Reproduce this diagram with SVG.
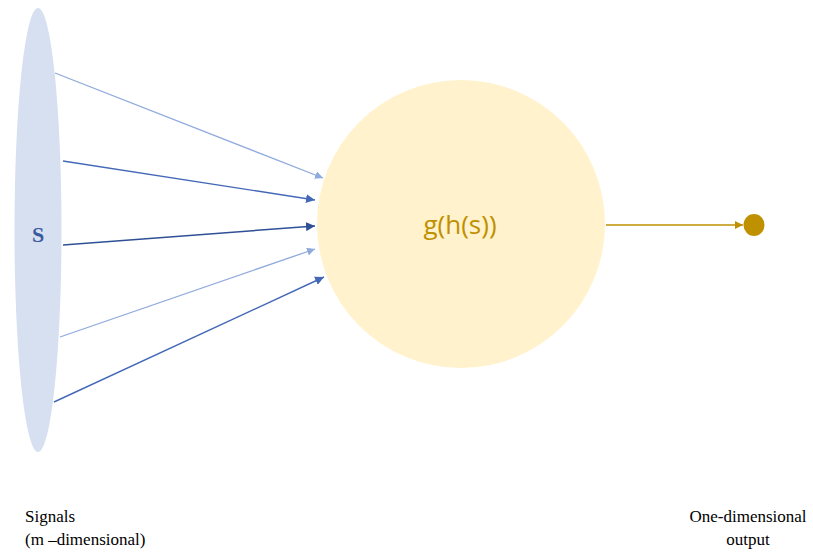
<svg xmlns="http://www.w3.org/2000/svg" width="813" height="552" viewBox="0 0 813 552">
  <style>
    .label { font-family: "Liberation Serif", serif; font-size: 17px; fill: #000000; }
    .c-light { stroke: #8FAADC; stroke-width: 1.3; fill: none; }
    .c-mid { stroke: #4468B8; stroke-width: 1.4; fill: none; }
    .c-dark { stroke: #2F4F96; stroke-width: 1.5; fill: none; }
    .c-gold { stroke: #BF9000; stroke-width: 1.3; fill: none; }
  </style>
  <defs>
    <marker id="ah-light" viewBox="0 0 10 10" refX="10" refY="5" markerWidth="8" markerHeight="8" markerUnits="userSpaceOnUse" orient="auto">
      <path d="M0,0 L10,5 L0,10 z" fill="#8FAADC"/>
    </marker>
    <marker id="ah-mid" viewBox="0 0 10 10" refX="10" refY="5" markerWidth="9" markerHeight="9" markerUnits="userSpaceOnUse" orient="auto">
      <path d="M0,0 L10,5 L0,10 z" fill="#4468B8"/>
    </marker>
    <marker id="ah-dark" viewBox="0 0 10 10" refX="10" refY="5" markerWidth="9" markerHeight="9" markerUnits="userSpaceOnUse" orient="auto">
      <path d="M0,0 L10,5 L0,10 z" fill="#2F4F96"/>
    </marker>
    <marker id="ah-gold" viewBox="0 0 10 10" refX="10" refY="5" markerWidth="8" markerHeight="8" markerUnits="userSpaceOnUse" orient="auto">
      <path d="M0,0 L10,5 L0,10 z" fill="#BF9000"/>
    </marker>
  </defs>

  <rect width="813" height="552" fill="#FFFFFF"/>

  <!-- input signal space -->
  <g id="signals">
    <ellipse cx="38" cy="230" rx="23.5" ry="222" fill="#D6E0F1"/>
    <text x="32" y="242" font-family="'Liberation Serif', serif" font-size="22" font-weight="bold" fill="#3A5A9E">S</text>
  </g>

  <!-- processing unit -->
  <g id="unit">
    <circle cx="461" cy="224" r="144" fill="#FFF2CC"/>
    <text x="460" y="234" text-anchor="middle" font-family="'Open Sans', 'Liberation Sans', sans-serif" font-size="26" fill="#BF9000">g(h(s))</text>
  </g>

  <!-- scalar output -->
  <g id="output">
    <ellipse cx="754" cy="225" rx="10.5" ry="11" fill="#BF9000"/>
  </g>

  <!-- connectors -->
  <g id="connectors">
    <line class="c-light" x1="55" y1="73" x2="323" y2="178" marker-end="url(#ah-light)"/>
    <line class="c-mid" x1="63" y1="161" x2="315" y2="200" marker-end="url(#ah-mid)"/>
    <line class="c-dark" x1="63" y1="245" x2="315" y2="226" marker-end="url(#ah-dark)"/>
    <line class="c-light" x1="60" y1="337" x2="315" y2="249" marker-end="url(#ah-light)"/>
    <line class="c-mid" x1="54" y1="402" x2="324" y2="277" marker-end="url(#ah-mid)"/>
    <line class="c-gold" x1="606" y1="225" x2="743" y2="225" marker-end="url(#ah-gold)"/>
  </g>

  <!-- captions -->
  <g id="captions">
    <text class="label" x="25" y="522">Signals</text>
    <text class="label" x="25" y="545">(m –dimensional)</text>
    <text class="label" x="748" y="522" text-anchor="middle">One-dimensional</text>
    <text class="label" x="748" y="545" text-anchor="middle">output</text>
  </g>
</svg>
